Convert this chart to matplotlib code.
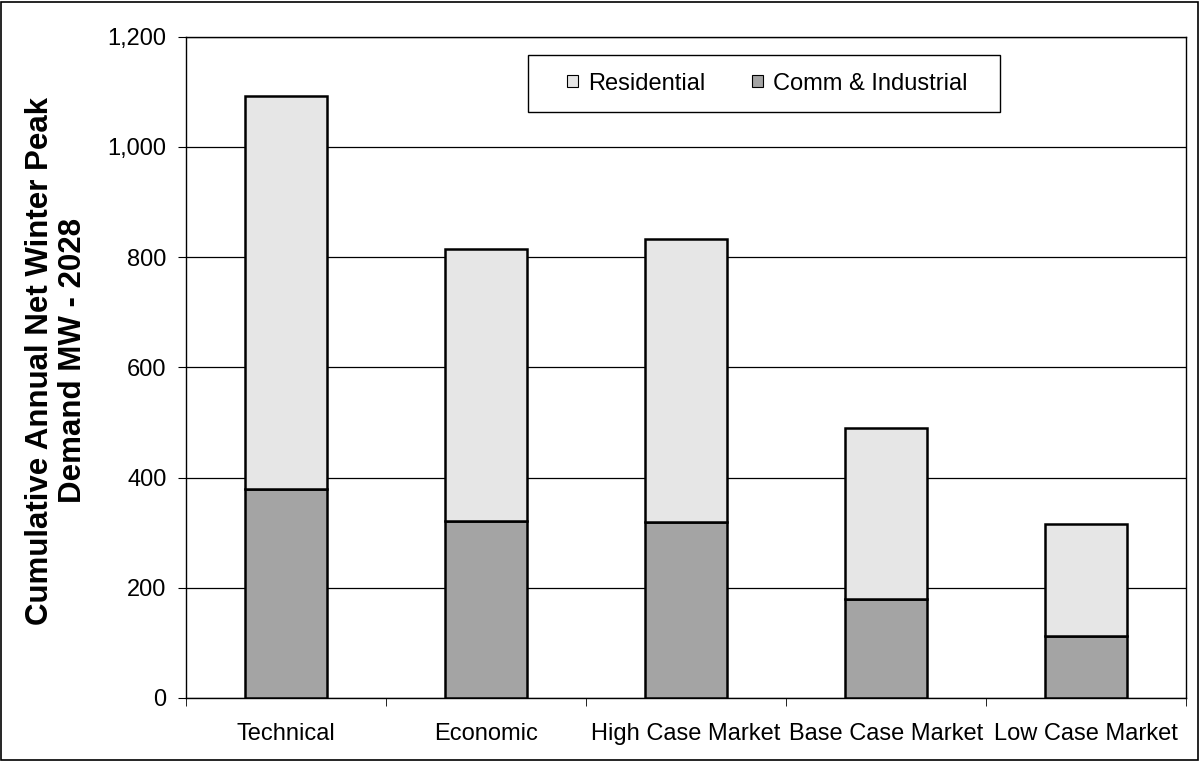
import matplotlib.pyplot as plt
import numpy as np

plt.rcParams['font.family'] = ['Liberation Sans', 'DejaVu Sans']

categories = ['Technical', 'Economic', 'High Case Market', 'Base Case Market', 'Low Case Market']
comm_ind = [379, 322, 320, 180, 113]
totals = [1093, 815, 832, 490, 315]
residential = [t - c for t, c in zip(totals, comm_ind)]

fig = plt.figure(figsize=(12, 7.62), dpi=100)
ax = fig.add_axes([0.155, 0.084, 0.833, 0.868])

x = np.arange(len(categories))
ax.bar(x, comm_ind, width=0.41, color='#a4a4a4', edgecolor='black', linewidth=1.8,
       label='Comm & Industrial', zorder=3)
ax.bar(x, residential, bottom=comm_ind, width=0.41, color='#e6e6e6', edgecolor='black',
       linewidth=1.8, label='Residential', zorder=3)

ax.set_xlim(-0.5, len(categories) - 0.5)
ax.set_ylim(0, 1200)
ax.set_yticks(range(0, 1201, 200))
ax.yaxis.set_major_formatter(plt.FuncFormatter(lambda v, p: f'{int(v):,}'))
ax.set_xticks(x)
ax.set_xticklabels(categories, fontsize=17)
ax.set_xticks(np.arange(-0.5, len(categories)), minor=True)
ax.tick_params(axis='x', which='major', length=0, pad=18)
ax.tick_params(axis='x', which='minor', length=6, direction='out')
ax.tick_params(axis='y', labelsize=17, length=6, direction='out', pad=8)
ax.yaxis.grid(True, color='black', linewidth=0.9, zorder=0)
for s in ax.spines.values():
    s.set_linewidth(1.0)
    s.set_color('black')

ax.set_ylabel('Cumulative Annual Net Winter Peak\nDemand MW - 2028', fontsize=22.5,
              fontweight='bold', linespacing=1.15)
ax.yaxis.set_label_coords(-0.098, 0.51)

# legend, with the box drawn separately so it can be wider than its contents
handles, labels = ax.get_legend_handles_labels()
leg = ax.legend(handles[::-1], labels[::-1], loc='center', bbox_to_anchor=(0.5815, 0.929),
                ncol=2, fontsize=17, frameon=False, handlelength=0.45, handleheight=0.45,
                handletextpad=0.42, columnspacing=2.0, borderpad=0, borderaxespad=0)
for h in leg.legend_handles:
    h.set_linewidth(0.8)
ax.add_patch(plt.Rectangle((0.342, 0.886), 0.472, 0.086, transform=ax.transAxes,
                           facecolor='white', edgecolor='black', linewidth=1.0, zorder=4))
leg.set_zorder(5)

fig.patches.append(plt.Rectangle((0.001, 0.003), 0.997, 0.995, transform=fig.transFigure,
                                 fill=False, edgecolor='black', linewidth=1.2))

fig.savefig('out.png', dpi=100)
